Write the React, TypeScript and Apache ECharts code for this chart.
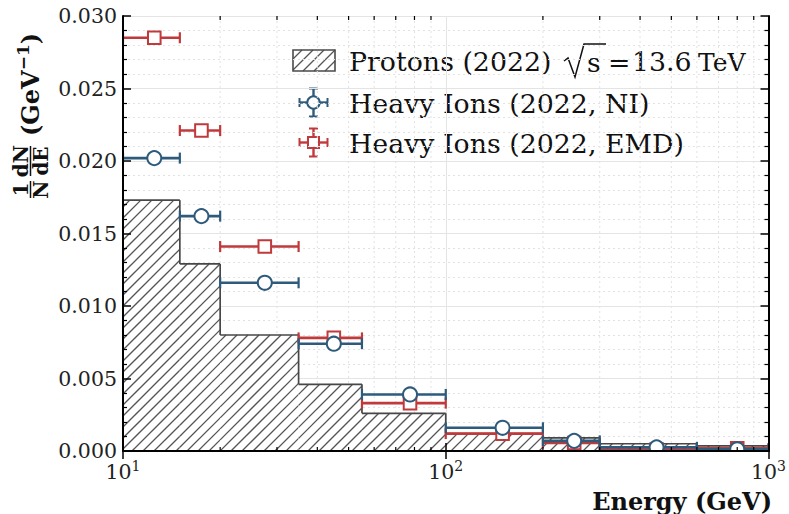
import React, { useEffect, useRef } from "react";
import * as echarts from "echarts";

// Energy bins (GeV) and their centres
const binEdges = [10, 15, 20, 35, 55, 100, 200, 300, 600, 1000];
const binCenters = [12.5, 17.5, 27.5, 45, 77.5, 150, 250, 450, 800];

// Normalised spectra 1/N dN/dE (GeV^-1)
const protons2022 = [0.0173, 0.0129, 0.008, 0.0046, 0.0026, 0.0012, 0.0009, 0.0005, 0.00035];
const heavyIonsNI = [0.0202, 0.0162, 0.0116, 0.0074, 0.0039, 0.0016, 0.0007, 0.00025, 0.00012];
const heavyIonsEMD = [0.0285, 0.0221, 0.0141, 0.0078, 0.0033, 0.0012, 0.00055, 0.0001, 0.00018];

// Axis ticks
const yTicks = { min: 0, max: 0.03, step: 0.005 };
const xMinorTicks = [20, 30, 40, 50, 60, 70, 80, 90, 200, 300, 400, 500, 600, 700, 800, 900];

const SERIF = "DejaVu Serif";
const BLUE = "#2e5b7b";
const RED = "#c0393b";
const HATCH = "#555555";
const EDGE = "#474747";
const HATCH_STEP = 11;

// diagonal "///" hatch lines clipped to a rectangle, aligned on a global lattice
function hatchLines(L: number, T: number, R: number, B: number, stroke: string, lw: number) {
  const out: any[] = [];
  const cStart = Math.ceil((L + T) / HATCH_STEP) * HATCH_STEP;
  for (let c = cStart; c <= R + B; c += HATCH_STEP) {
    const xs = Math.max(L, c - B);
    const xe = Math.min(R, c - T);
    if (xe - xs > 0.2) {
      out.push({
        type: "line",
        shape: { x1: xs, y1: c - xs, x2: xe, y2: c - xe },
        style: { stroke, lineWidth: lw },
        silent: true,
      });
    }
  }
  return out;
}

function errorBarItem(api: any, color: string, marker: "circle" | "square") {
  const lo = api.value(0);
  const hi = api.value(1);
  const c = api.value(2);
  const v = api.value(3);
  const p0 = api.coord([lo, v]);
  const p1 = api.coord([hi, v]);
  const pc = api.coord([c, v]);
  const cap = 5.5;
  const children: any[] = [
    { type: "line", shape: { x1: p0[0], y1: p0[1], x2: p1[0], y2: p1[1] }, style: { stroke: color, lineWidth: 2.6 } },
    { type: "line", shape: { x1: p0[0], y1: p0[1] - cap, x2: p0[0], y2: p0[1] + cap }, style: { stroke: color, lineWidth: 2.2 } },
    { type: "line", shape: { x1: p1[0], y1: p1[1] - cap, x2: p1[0], y2: p1[1] + cap }, style: { stroke: color, lineWidth: 2.2 } },
  ];
  if (marker === "circle") {
    children.push({ type: "circle", shape: { cx: pc[0], cy: pc[1], r: 7 }, style: { fill: "#ffffff", stroke: color, lineWidth: 2 } });
  } else {
    children.push({ type: "rect", shape: { x: pc[0] - 6.3, y: pc[1] - 6.3, width: 12.6, height: 12.6 }, style: { fill: "#ffffff", stroke: color, lineWidth: 2 } });
  }
  return { type: "group", children };
}

function legendIcon(cx: number, cy: number, color: string, marker: "circle" | "square") {
  const h = 14;
  const cap = 4.5;
  const children: any[] = [
    { type: "line", shape: { x1: cx - h, y1: cy, x2: cx + h, y2: cy }, style: { stroke: color, lineWidth: 2.4 } },
    { type: "line", shape: { x1: cx, y1: cy - h, x2: cx, y2: cy + h }, style: { stroke: color, lineWidth: 2.4 } },
    { type: "line", shape: { x1: cx - h, y1: cy - cap, x2: cx - h, y2: cy + cap }, style: { stroke: color, lineWidth: 2 } },
    { type: "line", shape: { x1: cx + h, y1: cy - cap, x2: cx + h, y2: cy + cap }, style: { stroke: color, lineWidth: 2 } },
    { type: "line", shape: { x1: cx - cap, y1: cy - h, x2: cx + cap, y2: cy - h }, style: { stroke: color, lineWidth: 2 } },
    { type: "line", shape: { x1: cx - cap, y1: cy + h, x2: cx + cap, y2: cy + h }, style: { stroke: color, lineWidth: 2 } },
  ];
  if (marker === "circle") {
    children.push({ type: "circle", shape: { cx, cy, r: 6.2 }, style: { fill: "#fff", stroke: color, lineWidth: 2 } });
  } else {
    children.push({ type: "rect", shape: { x: cx - 5.5, y: cy - 5.5, width: 11, height: 11 }, style: { fill: "#fff", stroke: color, lineWidth: 2 } });
  }
  return { type: "group", children };
}

export default function App() {
  const ref = useRef<HTMLDivElement>(null);

  useEffect(() => {
    if (!ref.current) return;
    const chart = echarts.init(ref.current, undefined, { renderer: "svg" });

    const n = protons2022.length;
    // [low edge, high edge, height, previous height, next height]
    const protonData = protons2022.map((v, i) => [
      binEdges[i], binEdges[i + 1], v,
      i > 0 ? protons2022[i - 1] : 0,
      i < n - 1 ? protons2022[i + 1] : 0,
    ]);
    const niData = heavyIonsNI.map((v, i) => [binEdges[i], binEdges[i + 1], binCenters[i], v]);
    const emdData = heavyIonsEMD.map((v, i) => [binEdges[i], binEdges[i + 1], binCenters[i], v]);

    const axisLineStyle = { color: "#000", width: 2 };
    const tickStyle = { color: "#000", width: 1.5 };
    const labelBase = { fontFamily: SERIF, fontSize: 20.5, color: "#222" };
    const txt = { fontFamily: SERIF, fontSize: 26.8, fill: "#111", verticalAlign: "middle" };
    const bold = { fontFamily: SERIF, fontWeight: "bold", fill: "#111", align: "center", verticalAlign: "middle" };

    // legend hatched box
    const lg = { x: 293, y: 50, w: 42, h: 21 };

    const option: any = {
      animation: false,
      backgroundColor: "#ffffff",
      grid: { left: 123, right: 16, top: 16, bottom: 63, containLabel: false },
      xAxis: [
        {
          type: "log", logBase: 10, min: 10, max: 1000, position: "bottom", z: 0,
          axisLine: { show: false }, axisTick: { show: false }, axisLabel: { show: false },
          splitLine: { show: true, lineStyle: { color: "#e4e4e4", width: 1 } },
        },
        {
          type: "log", logBase: 10, min: 10, max: 1000, position: "bottom", z: 10,
          axisLine: { show: true, lineStyle: axisLineStyle },
          axisTick: { show: true, inside: true, length: 8, lineStyle: tickStyle },
          splitLine: { show: false },
          axisLabel: {
            ...labelBase, margin: 8,
            formatter: (v: number) => `{b|10}{s|${Math.round(Math.log10(v))}}`,
            rich: {
              b: { ...labelBase },
              s: { fontFamily: SERIF, fontSize: 14, color: "#222", padding: [0, 0, 12, 0] },
            },
          },
        },
        {
          type: "log", logBase: 10, min: 10, max: 1000, position: "top", z: 10,
          axisLine: { show: true, lineStyle: axisLineStyle },
          axisTick: { show: true, inside: true, length: 8, lineStyle: tickStyle },
          axisLabel: { show: false }, splitLine: { show: false },
        },
      ],
      yAxis: [
        {
          type: "value", min: yTicks.min, max: yTicks.max, interval: yTicks.step, position: "left", z: 0,
          axisLine: { show: false }, axisTick: { show: false }, axisLabel: { show: false },
          splitLine: { show: true, lineStyle: { color: "#e4e4e4", width: 1 } },
          minorTick: { show: false, splitNumber: 5 },
          minorSplitLine: { show: true, lineStyle: { color: "#e2e2e2", width: 1, type: [2, 3] } },
        },
        {
          type: "value", min: yTicks.min, max: yTicks.max, interval: yTicks.step, position: "left", z: 10,
          axisLine: { show: true, lineStyle: axisLineStyle },
          axisTick: { show: true, inside: true, length: 8, lineStyle: tickStyle },
          minorTick: { show: true, splitNumber: 5, length: 4, lineStyle: { color: "#000", width: 1.2 } },
          splitLine: { show: false },
          axisLabel: { ...labelBase, margin: 6, formatter: (v: number) => v.toFixed(3) },
        },
        {
          type: "value", min: yTicks.min, max: yTicks.max, interval: yTicks.step, position: "right", z: 10,
          axisLine: { show: true, lineStyle: axisLineStyle },
          axisTick: { show: true, inside: true, length: 8, lineStyle: tickStyle },
          minorTick: { show: true, splitNumber: 5, length: 4, lineStyle: { color: "#000", width: 1.2 } },
          splitLine: { show: false }, axisLabel: { show: false },
        },
      ],
      series: [
        {
          // dotted minor grid on the log energy axis
          type: "custom", xAxisIndex: 0, yAxisIndex: 0, z: 1, silent: true,
          data: xMinorTicks.map((v) => [v]),
          renderItem: (params: any, api: any) => {
            const cs = params.coordSys;
            const x = api.coord([api.value(0), 0])[0];
            return {
              type: "line",
              shape: { x1: x, y1: cs.y, x2: x, y2: cs.y + cs.height },
              style: { stroke: "#e2e2e2", lineWidth: 1, lineDash: [2, 3] },
            };
          },
        },
        {
          name: "Protons (2022)",
          type: "custom", xAxisIndex: 0, yAxisIndex: 0, z: 2, clip: true,
          data: protonData,
          renderItem: (_params: any, api: any) => {
            const a = api.coord([api.value(0), 0]);
            const b = api.coord([api.value(1), api.value(2)]);
            const prevY = api.coord([api.value(0), api.value(3)])[1];
            const nextY = api.coord([api.value(1), api.value(4)])[1];
            const isLast = api.value(4) === 0;
            const L = a[0], R = b[0], T = b[1], B = a[1];
            const edge = { stroke: EDGE, lineWidth: 1.7 };
            const children: any[] = [
              { type: "rect", shape: { x: L, y: T, width: R - L, height: B - T }, style: { fill: "#ffffff", stroke: "none" } },
              ...hatchLines(L, T, R, B, HATCH, 1.3),
              // step outline: rising/falling edge on the left, top of the bin
              { type: "line", shape: { x1: L, y1: prevY, x2: L, y2: T }, style: edge },
              { type: "line", shape: { x1: L, y1: T, x2: R, y2: T }, style: edge },
            ];
            if (isLast) {
              children.push({ type: "line", shape: { x1: R, y1: T, x2: R, y2: nextY }, style: edge });
            }
            return { type: "group", children };
          },
        },
        {
          name: "Heavy Ions (2022, EMD)",
          type: "custom", xAxisIndex: 0, yAxisIndex: 0, z: 3, clip: true,
          data: emdData,
          renderItem: (_p: any, api: any) => errorBarItem(api, RED, "square"),
        },
        {
          name: "Heavy Ions (2022, NI)",
          type: "custom", xAxisIndex: 0, yAxisIndex: 0, z: 4, clip: true,
          data: niData,
          renderItem: (_p: any, api: any) => errorBarItem(api, BLUE, "circle"),
        },
        {
          // minor ticks on bottom and top energy axes
          type: "custom", xAxisIndex: 0, yAxisIndex: 0, z: 11, silent: true,
          data: xMinorTicks.map((v) => [v]),
          renderItem: (params: any, api: any) => {
            const cs = params.coordSys;
            const x = api.coord([api.value(0), 0])[0];
            return {
              type: "group",
              children: [
                { type: "line", shape: { x1: x, y1: cs.y + cs.height, x2: x, y2: cs.y + cs.height - 4 }, style: { stroke: "#000", lineWidth: 1.2 } },
                { type: "line", shape: { x1: x, y1: cs.y, x2: x, y2: cs.y + 4 }, style: { stroke: "#000", lineWidth: 1.2 } },
              ],
            };
          },
        },
      ],
      graphic: [
        // y-axis title: 1/N dN/dE (GeV^-1)
        {
          type: "group", x: 30, y: 198, rotation: Math.PI / 2, z: 20,
          children: [
            { type: "text", x: 8.5, y: -9.5, style: { ...bold, text: "1", fontSize: 20 } },
            { type: "text", x: 8.5, y: 11, style: { ...bold, text: "N", fontSize: 20 } },
            { type: "line", shape: { x1: 0, y1: 0.5, x2: 17, y2: 0.5 }, style: { stroke: "#111", lineWidth: 1.5 } },
            { type: "text", x: 37, y: -9.5, style: { ...bold, text: "dN", fontSize: 20 } },
            { type: "text", x: 37, y: 11, style: { ...bold, text: "dE", fontSize: 20 } },
            { type: "line", shape: { x1: 22, y1: 0.5, x2: 52, y2: 0.5 }, style: { stroke: "#111", lineWidth: 1.5 } },
            {
              type: "text", x: 62, y: 0,
              style: {
                text: "{a|(GeV}{s|−1}{a|)}", align: "left", verticalAlign: "middle", fill: "#111",
                rich: {
                  a: { fontFamily: SERIF, fontWeight: "bold", fontSize: 24, fill: "#111" },
                  s: { fontFamily: SERIF, fontWeight: "bold", fontSize: 17, fill: "#111", padding: [0, 0, 14, 0] },
                },
              },
            },
          ],
        },
        // x-axis title
        {
          type: "text", right: 17, top: 489, z: 20,
          style: { text: "Energy (GeV)", fontFamily: SERIF, fontWeight: "bold", fontSize: 24, fill: "#111" },
        },
        // legend
        {
          type: "group", z: 20,
          children: [
            { type: "rect", shape: { x: lg.x, y: lg.y, width: lg.w, height: lg.h }, style: { fill: "#fff", stroke: "none" } },
            ...hatchLines(lg.x, lg.y, lg.x + lg.w, lg.y + lg.h, HATCH, 1.3),
            { type: "rect", shape: { x: lg.x, y: lg.y, width: lg.w, height: lg.h }, style: { fill: "none", stroke: "#4a4a4a", lineWidth: 1.6 } },
            { type: "text", x: 349, y: 61, style: { ...txt, text: "Protons (2022)" } },
            // square-root sign drawn as a stroke with its vinculum
            { type: "polyline", shape: { points: [[564, 61], [568, 58], [575, 77], [584, 44], [606, 44]] }, style: { stroke: "#111", lineWidth: 1.5, fill: "none" } },
            { type: "text", x: 587, y: 62, style: { ...txt, text: "s" } },
            { type: "text", x: 608, y: 62, style: { ...txt, text: "=" } },
            { type: "text", x: 632, y: 61, style: { ...txt, text: "13.6" } },
            { type: "text", x: 698, y: 62, style: { ...txt, fontSize: 25, text: "TeV" } },
            legendIcon(313.5, 102.5, BLUE, "circle"),
            { type: "text", x: 349, y: 103, style: { ...txt, text: "Heavy Ions (2022, NI)" } },
            legendIcon(313.5, 142.5, RED, "square"),
            { type: "text", x: 349, y: 143, style: { ...txt, text: "Heavy Ions (2022, EMD)" } },
          ],
        },
      ],
    };

    chart.setOption(option);
    return () => chart.dispose();
  }, []);

  return <div ref={ref} style={{ width: 789, height: 514, position: "absolute", left: 0, top: 0 }} />;
}
